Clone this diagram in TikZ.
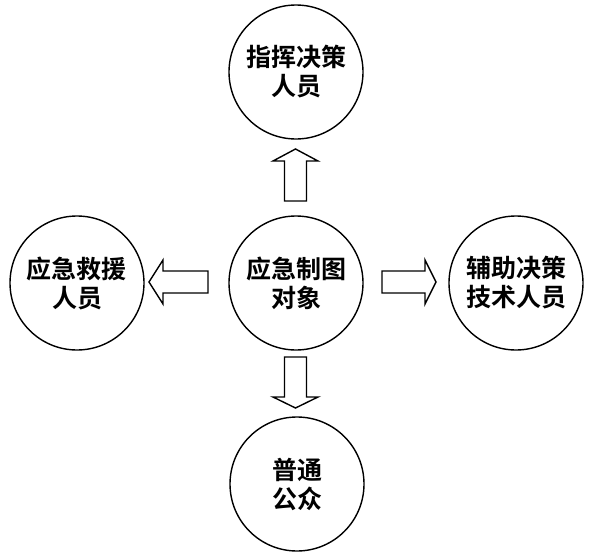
\documentclass[tikz,border=0pt]{standalone}
\usepackage{fontspec}
\newfontfamily\cjk{Noto Sans CJK SC}[BoldFont={Noto Sans CJK SC Bold}]
\begin{document}
\begin{tikzpicture}[x=1pt,y=-1pt,
  person/.style={draw=black,line width=1.4pt,circle,minimum size=134pt,inner sep=0pt,
    align=center,font=\cjk\bfseries\fontsize{25pt}{29pt}\selectfont},
  blockarrow/.style={draw=black,line width=1.4pt,fill=white,line join=miter}]
\useasboundingbox (0,0) rectangle (589,554);
\node[person] (top) at (296,72) {指挥决策\\人员};
\node[person] (mid) at (296,283) {应急制图\\对象};
\node[person] (left) at (77,283) {应急救援\\人员};
\node[person] (right) at (516,283) {辅助决策\\技术人员};
\node[person] (bot) at (297,484) {普通\\公众};
% up
\draw[blockarrow] (284.5,201) -- (284.5,161) -- (273,161) -- (295.5,149) -- (318,161) -- (306.5,161) -- (306.5,201) -- cycle;
% down
\draw[blockarrow] (284.5,357) -- (284.5,397) -- (273,397) -- (295.5,408) -- (318,397) -- (306.5,397) -- (306.5,357) -- cycle;
% left
\draw[blockarrow] (208,271) -- (163,271) -- (163,260) -- (149,282) -- (163,304) -- (163,293) -- (208,293) -- cycle;
% right
\draw[blockarrow] (382,271) -- (425,271) -- (425,260) -- (436,282) -- (425,304) -- (425,293) -- (382,293) -- cycle;
\end{tikzpicture}
\end{document}
